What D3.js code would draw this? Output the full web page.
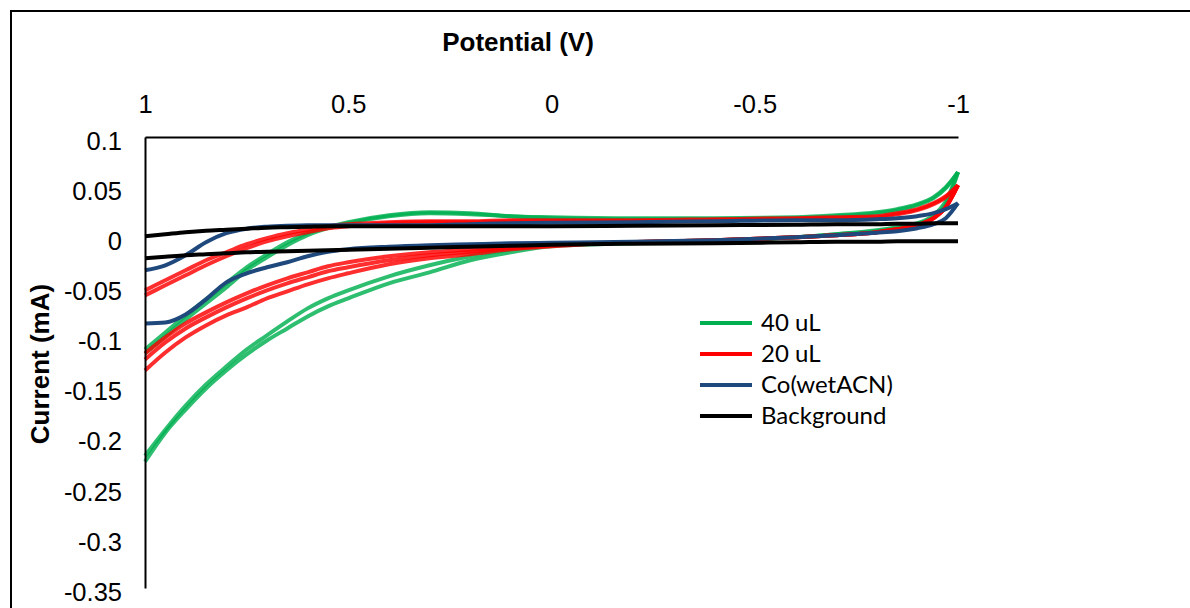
<!DOCTYPE html>
<html>
<head>
<meta charset="utf-8">
<script src="https://cdn.jsdelivr.net/npm/d3@7"></script>
<style>
  html, body { margin: 0; padding: 0; background: #fff; }
  svg { display: block; }
  .tick text { font-family: "Liberation Sans", Arial, sans-serif; font-size: 25.5px; fill: #000; }
</style>
</head>
<body>
<svg id="chart" width="1190" height="608"></svg>
<script>
// Potential grid (V) shared by every scan branch, ordered from +1 V to -1 V
const potential = [1, 0.95, 0.9, 0.85, 0.8, 0.75, 0.7, 0.65, 0.6, 0.55, 0.5, 0.4, 0.3, 0.2, 0.1, 0,
                   -0.2, -0.4, -0.6, -0.7, -0.8, -0.85, -0.9, -0.94, -0.97, -1];

// Currents (mA). Each series has an upper (anodic) and a lower (cathodic) branch per cycle.
const upper40uL_1 = [-0.112, -0.095, -0.078, -0.062, -0.046, -0.030, -0.017, -0.005, 0.004, 0.010, 0.015, 0.022, 0.025, 0.024, 0.021, 0.020,
                     0.019, 0.019, 0.020, 0.022, 0.025, 0.028, 0.033, 0.040, 0.050, 0.065];
const upper40uL_2 = [-0.116, -0.099, -0.082, -0.066, -0.050, -0.033, -0.020, -0.008, 0.002, 0.009, 0.014, 0.021, 0.024, 0.023, 0.021, 0.019,
                     0.018, 0.018, 0.019, 0.021, 0.024, 0.027, 0.032, 0.039, 0.049, 0.065];
const lower40uL_1 = [-0.218, -0.192, -0.168, -0.147, -0.129, -0.112, -0.098, -0.084, -0.071, -0.061, -0.053, -0.039, -0.028, -0.019, -0.012, -0.008,
                     -0.005, -0.003, 0.000, 0.003, 0.007, 0.010, 0.014, 0.022, 0.036, 0.065];
const lower40uL_2 = [-0.224, -0.195, -0.172, -0.151, -0.133, -0.117, -0.103, -0.091, -0.079, -0.069, -0.061, -0.046, -0.035, -0.023, -0.015, -0.009,
                     -0.006, -0.003, 0.000, 0.003, 0.006, 0.009, 0.013, 0.020, 0.033, 0.065];

const upper20uL_1 = [-0.053, -0.043, -0.033, -0.023, -0.015, -0.007, -0.001, 0.004, 0.0075, 0.011, 0.013, 0.015, 0.016, 0.016, 0.017, 0.017,
                     0.017, 0.018, 0.019, 0.020, 0.021, 0.024, 0.028, 0.034, 0.041, 0.052];
const upper20uL_2 = [-0.058, -0.048, -0.038, -0.028, -0.019, -0.011, -0.004, 0.001, 0.005, 0.009, 0.011, 0.014, 0.015, 0.015, 0.016, 0.016,
                     0.016, 0.017, 0.018, 0.019, 0.020, 0.023, 0.027, 0.033, 0.040, 0.052];
const lower20uL_1 = [-0.116, -0.100, -0.086, -0.075, -0.065, -0.056, -0.048, -0.041, -0.035, -0.029, -0.025, -0.019, -0.015, -0.0125, -0.010, -0.008,
                     -0.005, -0.003, 0.000, 0.002, 0.005, 0.008, 0.012, 0.019, 0.030, 0.052];
const lower20uL_2 = [-0.122, -0.105, -0.091, -0.080, -0.070, -0.061, -0.053, -0.046, -0.040, -0.034, -0.030, -0.023, -0.018, -0.0145, -0.011, -0.008,
                     -0.005, -0.003, 0.000, 0.002, 0.005, 0.008, 0.012, 0.019, 0.030, 0.052];
const lower20uL_3 = [-0.133, -0.115, -0.100, -0.088, -0.078, -0.070, -0.061, -0.054, -0.047, -0.041, -0.036, -0.027, -0.021, -0.017, -0.012, -0.009,
                     -0.005, -0.003, 0.000, 0.002, 0.005, 0.008, 0.012, 0.019, 0.030, 0.052];

const upperCo = [-0.033, -0.028, -0.018, -0.005, 0.004, 0.0085, 0.0105, 0.0115, 0.012, 0.012, 0.012, 0.012, 0.012, 0.013, 0.014, 0.0145,
                 0.015, 0.016, 0.017, 0.017, 0.018, 0.019, 0.021, 0.024, 0.028, 0.034];
const lowerCo = [-0.086, -0.085, -0.077, -0.062, -0.045, -0.036, -0.030, -0.025, -0.019, -0.0145, -0.012, -0.0095, -0.008, -0.007, -0.006, -0.0055,
                 -0.0045, -0.003, 0.000, 0.002, 0.0045, 0.006, 0.009, 0.013, 0.019, 0.034];

const upperBackground = [0.001, 0.003, 0.005, 0.0065, 0.0075, 0.0085, 0.0095, 0.010, 0.0105, 0.011, 0.011, 0.011, 0.011, 0.011, 0.011, 0.011,
                         0.0115, 0.012, 0.0125, 0.013, 0.013, 0.0135, 0.0135, 0.014, 0.014, 0.014];
const lowerBackground = [-0.021, -0.0195, -0.018, -0.017, -0.016, -0.015, -0.0145, -0.014, -0.0135, -0.013, -0.0125, -0.0115, -0.0105, -0.0095, -0.0085, -0.0075,
                         -0.0065, -0.006, -0.005, -0.0045, -0.0045, -0.004, -0.004, -0.004, -0.004, -0.004];

const seriesNames = ["40 uL", "20 uL", "Co(wetACN)", "Background"];
const seriesColors = ["#00B050", "#FF0000", "#1F497D", "#000000"];
const seriesBranches = [
  [upper40uL_1, upper40uL_2, lower40uL_1, lower40uL_2],
  [upper20uL_1, upper20uL_2, lower20uL_1, lower20uL_2, lower20uL_3],
  [upperCo, lowerCo],
  [upperBackground, lowerBackground]
];
const seriesWidths = [4, 4, 4, 4];

const xTicks = [1, 0.5, 0, -0.5, -1];
const yTicks = [0.1, 0.05, 0, -0.05, -0.1, -0.15, -0.2, -0.25, -0.3, -0.35];

const svg = d3.select("#chart");

// Outer chart frame (left and top edges)
svg.append("path")
  .attr("d", "M11,608 L11,11 L1190,11")
  .attr("fill", "none")
  .attr("stroke", "#000")
  .attr("stroke-width", 2);

const x = d3.scaleLinear().domain([1, -1]).range([145, 958]);
const y = d3.scaleLinear().domain([0.1, -0.35]).range([137, 588]);

const line = d3.line()
  .x(d => x(d[0]))
  .y(d => y(d[1]))
  .curve(d3.curveMonotoneX);

// Scan branches, drawn series by series so later series sit on top
const plot = svg.append("g");
seriesBranches.forEach((branches, si) => {
  const g = plot.append("g");
  branches.forEach(current => {
    g.append("path")
      .datum(potential.map((v, i) => [v, current[i]]))
      .attr("d", line)
      .attr("fill", "none")
      .attr("stroke", seriesColors[si])
      .attr("stroke-width", seriesWidths[si])
      .attr("stroke-opacity", si < 2 ? 0.82 : 1)
      .attr("stroke-linejoin", "round");
  });
});

// Axes: potential along the top, current along the left
const xAxis = svg.append("g")
  .attr("transform", "translate(0,137)")
  .call(d3.axisTop(x).tickValues(xTicks).tickSize(0).tickPadding(24)
    .tickFormat(d => String(d)));
const yAxis = svg.append("g")
  .attr("transform", "translate(145,0)")
  .call(d3.axisLeft(y).tickValues(yTicks).tickSize(0).tickPadding(23)
    .tickFormat(d => String(+d.toFixed(2))));
yAxis.selectAll(".tick text").attr("dy", "0.48em");
[xAxis, yAxis].forEach(a => a.select(".domain").attr("stroke", "#000").attr("stroke-width", 2));

// Axis titles
svg.append("text")
  .attr("x", 518).attr("y", 51)
  .attr("text-anchor", "middle")
  .style("font-family", "'Liberation Sans', Arial, sans-serif")
  .style("font-size", "26px").style("font-weight", "bold")
  .text("Potential (V)");
svg.append("text")
  .attr("transform", "translate(49,364) rotate(-90)")
  .attr("text-anchor", "middle")
  .style("font-family", "'Liberation Sans', Arial, sans-serif")
  .style("font-size", "26px").style("font-weight", "bold")
  .text("Current (mA)");

// Legend
const legend = svg.append("g").attr("transform", "translate(700,323)");
seriesNames.forEach((name, i) => {
  const row = legend.append("g").attr("transform", `translate(0,${i * 31})`);
  row.append("line")
    .attr("x1", 0).attr("x2", 52).attr("y1", 0).attr("y2", 0)
    .attr("stroke", seriesColors[i]).attr("stroke-width", 4);
  row.append("text")
    .attr("x", 61).attr("y", 8)
    .style("font-family", "Lato, 'Open Sans', sans-serif")
    .style("font-size", "24px")
    .text(name);
});
</script>
</body>
</html>
